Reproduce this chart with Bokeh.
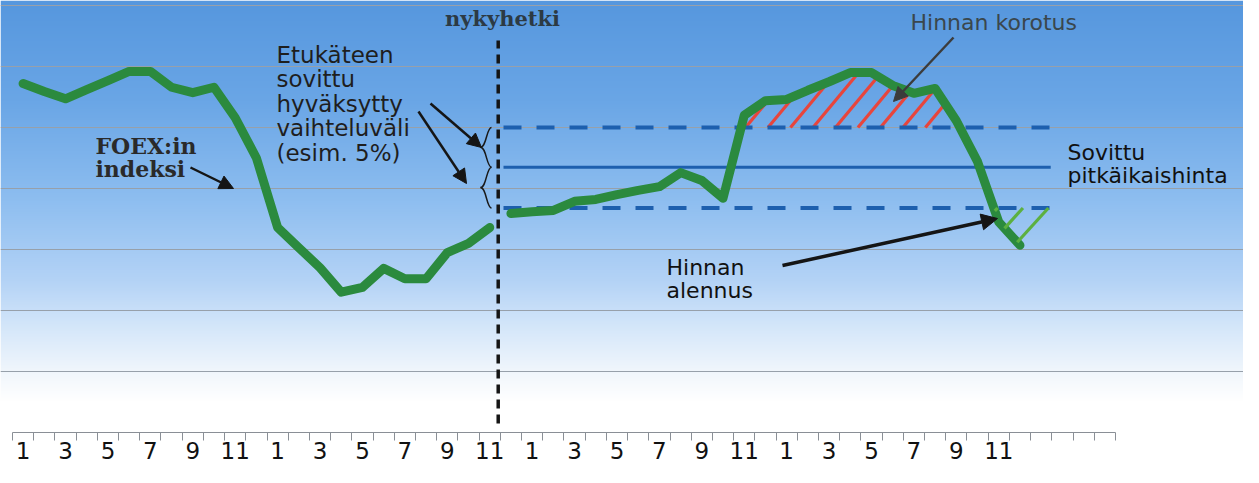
import numpy as np
from bokeh.plotting import figure
from bokeh.models import FixedTicker, Grid, Label, Arrow, NormalHead, Range1d
from bokeh.embed import file_html
from bokeh.resources import INLINE

# ---------------- data ----------------
months_before = list(range(1, 24))          # realised FOEX index, months 1..23
index_before = [147.2, 145.9, 144.7, 146.2, 147.7, 149.2, 149.2, 146.6, 145.7, 146.6,
                141.6, 135.0, 123.6, 120.3, 117.0, 113.0, 113.8, 116.9, 115.2, 115.2,
                119.5, 121.0, 123.6]
months_after = list(range(24, 49))          # index after "nykyhetki", months 24..48
index_after = [125.9, 126.2, 126.4, 127.9, 128.2, 129.0, 129.7, 130.3, 132.6, 131.3,
               128.4, 142.0, 144.4, 144.6, 146.1, 147.5, 149.0, 149.0, 146.9, 145.6,
               146.4, 141.1, 134.4, 124.5, 120.7]
label_months = list(range(1, 48, 2))
month_labels = ["1", "3", "5", "7", "9", "11"] * 4
n_month_slots = 52
grid_levels = [100, 110, 120, 130, 140, 150, 160]
agreed_price = 133.5
band_upper = 140.0
band_lower = 126.8
now_boundary = 22.9

# ---------------- layout helpers (picture pixels -> data) ----------------
def fx(px):
    return (px - 12) / 21.21

def fy(py):
    return 160 - (py - 5) / 6.1

W, H, AXIS_Y = 1243, 467, 432
p = figure(width=W, height=H, output_backend="svg", toolbar_location=None,
           x_range=Range1d(fx(0), fx(W)), y_range=Range1d(fy(AXIS_Y), fy(0)),
           y_axis_location=None, min_border_left=0, min_border_right=0,
           min_border_top=0, min_border_bottom=H - AXIS_Y)
p.outline_line_color = None
p.background_fill_color = "white"
p.border_fill_color = "white"
p.xgrid.visible = False

# ---------------- background gradient ----------------
frame_h = AXIS_Y
stops_py = [0, 100, 200, 280, 330, 370, 400, 440]
stops_r = [86, 106, 142, 180, 215, 240, 255, 255]
stops_g = [151, 166, 190, 211, 232, 246, 255, 255]
stops_b = [222, 230, 240, 246, 250, 252, 255, 255]
rows_py = frame_h - np.arange(frame_h) - 0.5
img = np.empty((frame_h, 2), dtype=np.uint32)
view = img.view(dtype=np.uint8).reshape((frame_h, 2, 4))
view[:, :, 0] = np.interp(rows_py, stops_py, stops_r)[:, None]
view[:, :, 1] = np.interp(rows_py, stops_py, stops_g)[:, None]
view[:, :, 2] = np.interp(rows_py, stops_py, stops_b)[:, None]
view[:, :, 3] = 255
p.image_rgba(image=[img], x=fx(0), y=fy(frame_h), dw=fx(W) - fx(0),
             dh=fy(0) - fy(frame_h), level="image")

# ---------------- grid ----------------
p.add_layout(Grid(dimension=1, ticker=FixedTicker(ticks=grid_levels), bounds=(0, n_month_slots),
                  grid_line_color="#97a0aa", grid_line_width=1))

# ---------------- x axis ----------------
xa = p.xaxis[0]
xa.ticker = FixedTicker(ticks=[m - 0.5 for m in label_months],
                        minor_ticks=list(range(0, n_month_slots + 1)))
xa.major_label_overrides = {m - 0.5: lab for m, lab in zip(label_months, month_labels)}
xa.bounds = (0, n_month_slots)
xa.major_tick_out = 0
xa.major_tick_in = 0
xa.minor_tick_out = 8
xa.minor_tick_in = 0
xa.axis_line_color = "#8a8f96"
xa.minor_tick_line_color = "#8a8f96"
xa.major_label_text_font = "DejaVu Sans"
xa.major_label_text_font_size = "23px"
xa.major_label_text_color = "#111111"
xa.major_label_standoff = 1

# ---------------- series ----------------
xb = np.array(months_before) - 0.5
xa_ = np.array(months_after) - 0.5
ya_ = np.array(index_after, dtype=float)

# red hatch: increase zone
red_slope = 1.2 * 21.21 / 6.1
red_x0 = 34.56 + 1.06 * np.arange(9)
rx0, ry0, rx1, ry1 = [], [], [], []
for x0 in red_x0:
    xs = np.linspace(x0, x0 + 4, 4000)
    ys = band_upper + red_slope * (xs - x0)
    g = np.interp(xs, xa_, ya_)
    i = int(np.argmax(ys >= g))
    rx0.append(x0); ry0.append(band_upper); rx1.append(xs[i]); ry1.append(ys[i])
p.segment(rx0, ry0, rx1, ry1, line_color="#e8453c", line_width=3.2)

# green hatch: decrease zone
grn_slope = 1.1 * 21.21 / 6.1
grn_x0 = 46.44 + 1.2 * np.arange(3)
gx0, gy0, gx1, gy1 = [], [], [], []
for x0 in grn_x0:
    xs = np.linspace(x0, x0 - 4, 4000)
    ys = band_lower - grn_slope * (x0 - xs)
    g = np.interp(xs, xa_, ya_)
    i = int(np.argmax(ys <= g))
    gx0.append(x0); gy0.append(band_lower); gx1.append(xs[i]); gy1.append(ys[i])

# band lines
band_x = [now_boundary + 0.25, 48.95]
p.line(band_x, [band_upper] * 2, line_color="#1d5fae", line_width=4, line_dash="18 15")
p.line(band_x, [band_lower] * 2, line_color="#1d5fae", line_width=4, line_dash="18 15")
p.line(band_x, [agreed_price] * 2, line_color="#1d5fae", line_width=3)

# FOEX index
p.line(xb, index_before, line_color="#2b8a3e", line_width=9, line_join="round", line_cap="round")
p.line(xa_, index_after, line_color="#2b8a3e", line_width=9, line_join="round", line_cap="round")
p.segment(gx0, gy0, gx1, gy1, line_color="#5cb040", line_width=3.2)

# now line
p.segment([now_boundary], [fy(423)], [now_boundary], [fy(40)], line_color="#151515",
          line_width=3.5, line_dash="9 6")

# braces
xr, xm, xt = fx(491), fx(486), fx(480)
bx0, by0, bx1, by1, cx0, cy0, cx1, cy1 = [], [], [], [], [], [], [], []
for top, bot in [(band_upper, agreed_price), (agreed_price, band_lower)]:
    mid = (top + bot) / 2
    bx0 += [xr, xt]; by0 += [top, mid]; bx1 += [xt, xr]; by1 += [mid, bot]
    cx0 += [xm, xm]; cy0 += [top, mid]; cx1 += [xm, xm]; cy1 += [mid, bot]
p.bezier(x0=bx0, y0=by0, x1=bx1, y1=by1, cx0=cx0, cy0=cy0, cx1=cx1, cy1=cy1,
         line_color="#1a1a1a", line_width=1.5)

# ---------------- annotations ----------------
def lab(px, py, text, font="DejaVu Sans", size="22px", color="#1e1e1e", style="normal", align="left"):
    p.add_layout(Label(x=fx(px), y=fy(py), text=text, text_font=font, text_font_size=size,
                       text_color=color, text_font_style=style, text_baseline="middle",
                       text_align=align))

lab(502, 18, "nykyhetki", font="DejaVu Serif", size="21px", color="#2c3a44", style="bold", align="center")
for i, t in enumerate(["Etukäteen", "sovittu", "hyväksytty", "vaihteluväli", "(esim. 5%)"]):
    lab(276, 54 + 24.5 * i, t, size="23px")
lab(95, 145, "FOEX:in", font="DejaVu Serif", size="22px", color="#2a2a2a", style="bold")
lab(95, 168, "indeksi", font="DejaVu Serif", size="22px", color="#2a2a2a", style="bold")
lab(910, 22, "Hinnan korotus", color="#3a474d")
lab(1067, 152, "Sovittu", color="#111111")
lab(1067, 175, "pitkäikaishinta", color="#111111")
lab(666, 267, "Hinnan", color="#111111")
lab(666, 290, "alennus", color="#111111")

def arrow(a, b, c, d, color="#151515", width=2.5, size=14):
    p.add_layout(Arrow(x_start=fx(a), y_start=fy(b), x_end=fx(c), y_end=fy(d),
                       line_color=color, line_width=width,
                       end=NormalHead(size=size, fill_color=color, line_color=color)))

arrow(190, 167, 233, 188)
arrow(430, 103, 481, 147)
arrow(418, 111, 466, 183)
arrow(953, 37, 893, 101, color="#3c3c3c")
arrow(782, 265, 997, 218, width=3.5, size=16)

open("out.html", "w").write(file_html(p, INLINE))
